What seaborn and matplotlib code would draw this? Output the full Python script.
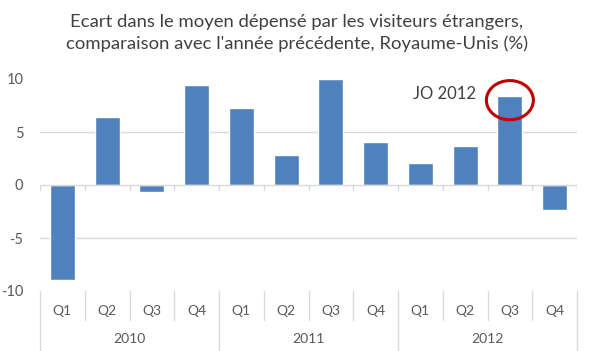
import numpy as np
import pandas as pd
import matplotlib
matplotlib.use("Agg")
import matplotlib.pyplot as plt
import seaborn as sns
from matplotlib.patches import Ellipse
from matplotlib.transforms import blended_transform_factory

# Data
years = ["2010", "2011", "2012"]
quarters = ["Q1", "Q2", "Q3", "Q4"]
ecart = [-9.0, 6.4, -0.7, 9.4, 7.3, 2.8, 10.0, 4.1, 2.1, 3.7, 8.4, -2.4]
y_ticks = [-10, -5, 0, 5, 10]
title = ("Ecart dans le moyen dépensé par les visiteurs étrangers,\n"
         "comparaison avec l'année précédente, Royaume-Unis (%)")
note = "JO 2012"
note_index = 10  # 2012 Q3

periods = [f"{y} {q}" for y in years for q in quarters]
df = pd.DataFrame({"periode": periods, "ecart": ecart})

sns.set_theme(style="white")
plt.rcParams["font.family"] = ["Lato", "DejaVu Sans"]

W, H = 594, 351
fig = plt.figure(figsize=(W / 100, H / 100), dpi=100)
left, right, top, bottom = 40, 577, 79, 291
ax = fig.add_axes([left / W, 1 - bottom / H, (right - left) / W, (bottom - top) / H])

bar_color = "#4f81bd"
grey_txt = "#595959"
grid_col = "#d9d9d9"

for g in [-5, 5]:
    ax.axhline(g, color=grid_col, lw=1, zorder=0)
ax.axhline(0, color=grid_col, lw=1, zorder=3)

sns.barplot(data=df, x="periode", y="ecart", color=bar_color, width=0.56,
            saturation=1, ax=ax, zorder=2)

ax.set_xlim(-0.5, len(periods) - 0.5)
ax.set_ylim(-10, 10)
ax.set_yticks(y_ticks)
ax.set_yticklabels([str(t) for t in y_ticks], color=grey_txt, fontsize=10.5)
ax.tick_params(axis="y", length=0, pad=12)
ax.set_xticks([])
ax.set_xlabel("")
ax.set_ylabel("")
for s in ax.spines.values():
    s.set_visible(False)

# multi-level category axis
trans = blended_transform_factory(ax.transData, ax.transAxes)
ph = bottom - top
for i in range(len(periods) + 1):
    x = i - 0.5
    # small ticks on zero line
    ax.plot([x, x], [0, -0.45], color=grid_col, lw=1, zorder=3)
    low = -(350 - bottom) / ph if i % 4 == 0 else -(320 - bottom) / ph
    ax.plot([x, x], [0, low], color=grid_col, lw=1, transform=trans, clip_on=False)
for i, p in enumerate(periods):
    ax.text(i, -(311 - bottom) / ph, quarters[i % 4], transform=trans,
            ha="center", va="center", fontsize=10, color=grey_txt)
for j, y in enumerate(years):
    ax.text(j * 4 + 1.5, -(339 - bottom) / ph, y, transform=trans,
            ha="center", va="center", fontsize=10, color=grey_txt)

# annotation
ax.add_patch(Ellipse((note_index, 8.0), width=1.05, height=3.7, fill=False,
                     edgecolor="#c00000", lw=2.2, zorder=4))
ax.text(note_index - 0.75, 8.6, note, ha="right", va="center",
        fontsize=12, color="#404040")

fig.text(0.5, 1 - 33 / H, title, ha="center", va="center", fontsize=13.3,
         color="#404040", linespacing=1.4)

fig.savefig("out.png", dpi=100)
